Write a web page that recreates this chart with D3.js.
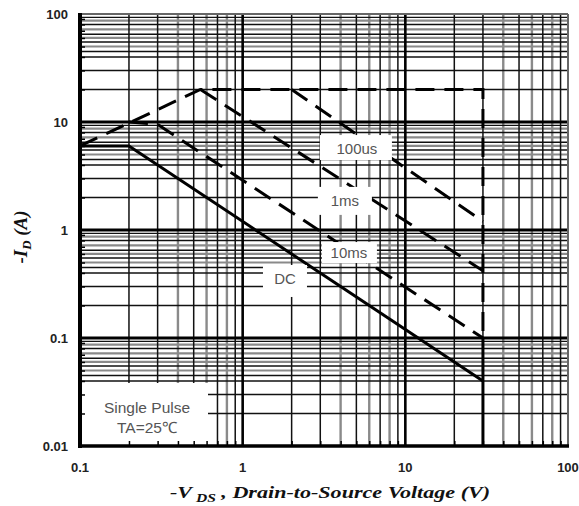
<!DOCTYPE html>
<html><head><meta charset="utf-8">
<script src="https://cdn.jsdelivr.net/npm/d3@7"></script>
<style>body{margin:0;background:#fff}</style>
</head><body><svg id="c" width="579" height="506"></svg>
<script>
// ---- data ----
const xTicks = [0.1, 1, 10, 100];
const xTickLabels = ["0.1", "1", "10", "100"];
const yTicks = [0.01, 0.1, 1, 10, 100];
const yTickLabels = ["0.01", "0.1", "1", "10", "100"];
const xMinorBlack = [2, 3, 5, 7, 9];
const xMinorGray = [4, 6, 8];
const yMinorBlack = [2, 3, 4, 4.5, 5.5, 6.5, 8, 9.3];
const yMinorGray = [5, 6, 7.2, 8.7];
const axisMinor = [2, 3, 4, 5, 6, 7, 8, 9];

const outlineV = [0.1, 0.55, 30, 30];
const outlineI = [6, 20, 20, 0.1];
const us100V = [2, 30];
const us100I = [20, 1.2];
const ms1V = [0.55, 30];
const ms1I = [20, 0.42];
const ms10V = [0.2, 0.3, 30];
const ms10I = [10, 9.5, 0.1];
const dcV = [0.1, 0.2, 30];
const dcI = [6, 6, 0.04];
const limitV = [30, 30];
const limitI = [0.1, 0.01];

const labelText = ["100us", "1ms", "10ms", "DC"];
const labelV = [5.04, 4.25, 4.5, 1.82];
const labelI = [5.74, 1.86, 0.625, 0.352];
const noteLines = ["Single Pulse", "TA=25\u2103"];

// ---- layout ----
const L = 80, R = 568, T = 14, B = 446;
const svg = d3.select("#c");
const x = d3.scaleLog().domain([0.1, 100]).range([L, R]);
const y = d3.scaleLog().domain([0.01, 100]).range([B, T]);

const decadesX = [0.1, 1, 10];
const decadesY = [0.01, 0.1, 1, 10];
const expand = (decs, mults) => decs.flatMap(d => mults.map(m => d * m));

const g = svg.append("g");
g.selectAll(".vg").data(expand(decadesX, xMinorGray)).join("line")
  .attr("x1", d => x(d)).attr("x2", d => x(d)).attr("y1", T).attr("y2", B)
  .attr("stroke", "#8a8a8a").attr("stroke-width", 2.4);
g.selectAll(".hg").data(expand(decadesY, yMinorGray)).join("line")
  .attr("y1", d => y(d)).attr("y2", d => y(d)).attr("x1", L).attr("x2", R)
  .attr("stroke", "#8a8a8a").attr("stroke-width", 2.2);
g.selectAll(".vb").data(expand(decadesX, xMinorBlack)).join("line")
  .attr("x1", d => x(d)).attr("x2", d => x(d)).attr("y1", T).attr("y2", B)
  .attr("stroke", "#111").attr("stroke-width", 1.5);
g.selectAll(".hb").data(expand(decadesY, yMinorBlack)).join("line")
  .attr("y1", d => y(d)).attr("y2", d => y(d)).attr("x1", L).attr("x2", R)
  .attr("stroke", "#111").attr("stroke-width", 1.4);
g.selectAll(".vm").data(xTicks.slice(1, -1)).join("line")
  .attr("x1", d => x(d)).attr("x2", d => x(d)).attr("y1", T).attr("y2", B)
  .attr("stroke", "#000").attr("stroke-width", 2.6);
g.selectAll(".hm").data(yTicks.slice(1, -1)).join("line")
  .attr("y1", d => y(d)).attr("y2", d => y(d)).attr("x1", L).attr("x2", R)
  .attr("stroke", "#000").attr("stroke-width", 3);

// ---- curves ----
const line = d3.line().x(d => x(d[0])).y(d => y(d[1]));
const zip = (a, b) => a.map((v, i) => [v, b[i]]);
const curves = [
  {V: outlineV, I: outlineI, dash: "19,10"},
  {V: us100V, I: us100I, dash: "19,10"},
  {V: ms1V, I: ms1I, dash: "19,10"},
  {V: ms10V, I: ms10I, dash: "19,10"},
  {V: dcV, I: dcI, dash: null},
  {V: limitV, I: limitI, dash: null}
];
svg.append("g").selectAll("path").data(curves).join("path")
  .attr("d", c => line(zip(c.V, c.I)))
  .attr("fill", "none").attr("stroke", "#000").attr("stroke-width", 3)
  .attr("stroke-dasharray", c => c.dash);

// ---- label boxes ----
const boxSize = [[72, 25], [54, 28], [55, 21], [44, 32]];
const boxOff = [[-37, -13], [-27, -14], [-27, -10], [-22, -14]];
const lg = svg.append("g");
labelText.forEach((t, i) => {
  const cx = x(labelV[i]), cy = y(labelI[i]);
  lg.append("rect").attr("x", cx + boxOff[i][0]).attr("y", cy + boxOff[i][1])
    .attr("width", boxSize[i][0]).attr("height", boxSize[i][1]).attr("fill", "#fff");
  lg.append("text").attr("x", cx).attr("y", cy).attr("text-anchor", "middle")
    .attr("dominant-baseline", "central")
    .attr("font-family", "Liberation Sans, Arial, sans-serif").attr("font-size", 15)
    .attr("fill", "#555").text(t);
});
lg.append("rect").attr("x", L + 1).attr("y", 383).attr("width", 127).attr("height", B - 383).attr("fill", "#fff");
noteLines.forEach((t, i) => {
  lg.append("text").attr("x", 147).attr("y", 407 + i * 20).attr("text-anchor", "middle")
    .attr("dominant-baseline", "central")
    .attr("font-family", "Liberation Sans, Arial, sans-serif").attr("font-size", 15.5)
    .attr("fill", "#555").text(t);
});

// ---- axes ----
const xMinorAll = expand(decadesX, axisMinor);
const yMinorAll = expand(decadesY, axisMinor);
const xAxis = d3.axisBottom(x).tickValues(xMinorAll).tickSize(-5).tickFormat("");
const yAxis = d3.axisLeft(y).tickValues(yMinorAll).tickSize(-5).tickFormat("");
const xa = svg.append("g").attr("transform", `translate(0,${B})`).call(xAxis);
const ya = svg.append("g").attr("transform", `translate(${L},0)`).call(yAxis);
[xa, ya].forEach(a => {
  a.select(".domain").remove();
  a.selectAll(".tick line").attr("stroke", "#000").attr("stroke-width", 1.5);
});

svg.append("line").attr("x1", L).attr("x2", R).attr("y1", T).attr("y2", T).attr("stroke", "#666").attr("stroke-width", 2);
svg.append("line").attr("x1", R).attr("x2", R).attr("y1", T).attr("y2", B).attr("stroke", "#666").attr("stroke-width", 2);
svg.append("line").attr("x1", L).attr("x2", L).attr("y1", T - 1).attr("y2", B + 2).attr("stroke", "#000").attr("stroke-width", 4);
svg.append("line").attr("x1", L - 2).attr("x2", R + 1).attr("y1", B).attr("y2", B).attr("stroke", "#000").attr("stroke-width", 3.5);

svg.append("g").selectAll("text").data(xTicks).join("text")
  .attr("x", d => x(d)).attr("y", 472).attr("text-anchor", "middle")
  .attr("font-family", "Liberation Sans, Arial, sans-serif").attr("font-weight", "bold")
  .attr("font-size", 13).attr("fill", "#222").text((d, i) => xTickLabels[i]);
svg.append("g").selectAll("text").data(yTicks).join("text")
  .attr("x", 68).attr("y", d => y(d)).attr("text-anchor", "end").attr("dominant-baseline", "central")
  .attr("font-family", "Liberation Sans, Arial, sans-serif").attr("font-weight", "bold")
  .attr("font-size", 13).attr("fill", "#222").text((d, i) => yTickLabels[i]);

// axis titles
const xt = svg.append("g").attr("transform", "translate(330,498) scale(1.3,1)")
  .append("text").attr("text-anchor", "middle")
  .attr("font-family", "Liberation Serif, Times New Roman, serif").attr("font-style", "italic")
  .attr("font-weight", "bold").attr("font-size", 17).attr("fill", "#111");
xt.append("tspan").text("-V");
xt.append("tspan").attr("font-size", 12).attr("dy", 4).attr("dx", 3).text("DS");
xt.append("tspan").attr("dy", -4).text(" , Drain-to-Source Voltage (V)");

const yt = svg.append("text").attr("transform", "translate(27,237) rotate(-90)").attr("text-anchor", "middle")
  .attr("font-family", "Liberation Serif, Times New Roman, serif").attr("font-style", "italic")
  .attr("font-weight", "bold").attr("font-size", 19).attr("fill", "#111");
yt.append("tspan").text("-I");
yt.append("tspan").attr("font-size", 13).attr("dy", 4).text("D");
yt.append("tspan").attr("dy", -4).text(" (A)");
</script></body></html>
